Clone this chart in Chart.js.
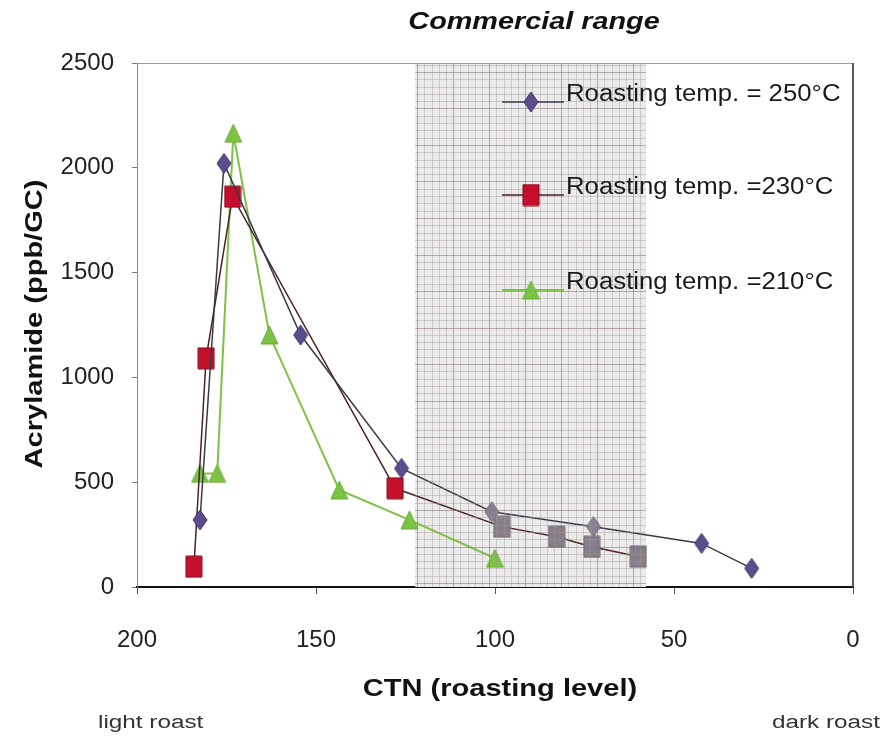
<!DOCTYPE html>
<html>
<head>
<meta charset="utf-8">
<script src="https://cdn.jsdelivr.net/npm/chart.js@4/dist/chart.umd.min.js"></script>
<style>
  html, body { margin: 0; padding: 0; background: #fff; }
  #wrap { width: 882px; height: 739px; }
</style>
</head>
<body>
<div id="wrap"><canvas id="chart" width="882" height="739"></canvas></div>
<script>
// values
const ctn250 = [182.4, 175.7, 154.3, 126.1, 100.9, 72.5, 42.3, 28.3]
const acr250 = [320, 2021, 1202, 566, 359, 288, 208, 89]

const ctn230 = [184.1, 180.7, 173.3, 127.9, 98.1, 82.8, 73.0, 60.0]
const acr230 = [97, 1091, 1862, 471, 288, 240, 192, 145]

const ctn210 = [182.4, 177.6, 173.1, 163.0, 143.5, 123.9, 100.0]
const acr210 = [542, 542, 2165, 1202, 463, 320, 137]

const labels = ["Roasting temp. = 250°C", "Roasting temp. =230°C", "Roasting temp. =210°C"]
const xTicks = [200, 150, 100, 50, 0]
const yTicks = [0, 500, 1000, 1500, 2000, 2500]
const commercialRange = [122.3, 57.8]

const FONT = 'Arial, "Liberation Sans", sans-serif'

function toPoints(xs, ys) {
	return xs.map((x, i) => ({ x: x, y: ys[i] }))
}

function marker(shape, fill, stroke, w, h) {
	let c = document.createElement("canvas")
	c.width = w + 2
	c.height = h + 2
	let g = c.getContext("2d")
	g.fillStyle = fill
	g.strokeStyle = stroke
	g.lineWidth = 1
	g.beginPath()
	if (shape == "diamond") {
		g.moveTo(w / 2 + 1, 1)
		g.lineTo(w + 1, h / 2 + 1)
		g.lineTo(w / 2 + 1, h + 1)
		g.lineTo(1, h / 2 + 1)
	} else if (shape == "rect") {
		g.rect(1, 1, w, h)
	} else {
		g.moveTo(w / 2 + 1, 1)
		g.lineTo(w + 1, h + 1)
		g.lineTo(1, h + 1)
	}
	g.closePath()
	g.fill()
	g.stroke()
	return c
}

const diamond = marker("diamond", "#5c4d8f", "#3d3168", 14, 20)
const diamondGrey = marker("diamond", "#8a8290", "#6e6670", 14, 20)
const square = marker("rect", "#c4102c", "#8a0a1e", 16, 21)
const squareGrey = marker("rect", "#878088", "#6e6670", 16, 21)
const triangle = marker("tri", "#7cc245", "#6aae38", 17, 18)

function inRange(v) {
	return v <= commercialRange[0] && v >= commercialRange[1]
}

function styleFor(normal, grey) {
	return ctx => (ctx.raw && inRange(ctx.raw.x)) ? grey : normal
}

const datasets = [
	{
		label: labels[0],
		data: toPoints(ctn250, acr250),
		borderColor: "#3a3a4a",
		borderWidth: 1.5,
		pointStyle: styleFor(diamond, diamondGrey),
		legendMarker: diamond,
	},
	{
		label: labels[1],
		data: toPoints(ctn230, acr230),
		borderColor: "#4a2228",
		borderWidth: 1.5,
		pointStyle: styleFor(square, squareGrey),
		legendMarker: square,
	},
	{
		label: labels[2],
		data: toPoints(ctn210, acr210),
		borderColor: "#7cc245",
		borderWidth: 2,
		pointStyle: triangle,
		legendMarker: triangle,
	},
]

function rangePixels(chart) {
	const xs = chart.scales.x
	return [xs.getPixelForValue(commercialRange[0]), xs.getPixelForValue(commercialRange[1])]
}

// the original lettering is wider than Arial, so stretch it sideways
function wideText(ctx, str, x, y, sx, align, angle) {
	ctx.save()
	ctx.translate(x, y)
	if (angle) ctx.rotate(angle)
	ctx.scale(sx, 1)
	ctx.textAlign = align
	ctx.textBaseline = "middle"
	ctx.fillText(str, 0, 0)
	ctx.restore()
}

const decor = {
	id: "decor",
	beforeDatasetsDraw(chart) {
		const ctx = chart.ctx
		const a = chart.chartArea
		const [x0, x1] = rangePixels(chart)
		ctx.save()
		ctx.fillStyle = "#ecebeb"
		ctx.fillRect(x0, a.top, x1 - x0, a.bottom - a.top)
		ctx.restore()
	},
	afterDatasetsDraw(chart) {
		// fine grid of the commercial range, laid over the marks
		const ctx = chart.ctx
		const a = chart.chartArea
		const [x0, x1] = rangePixels(chart)
		ctx.save()
		ctx.lineWidth = 1
		let n = 0
		for (let x = x0 + 2; x < x1; x += 7.2) {
			ctx.strokeStyle = n % 5 == 0 ? "rgba(130,115,115,0.55)" : "rgba(160,150,150,0.4)"
			ctx.beginPath()
			ctx.moveTo(Math.round(x) + 0.5, a.top)
			ctx.lineTo(Math.round(x) + 0.5, a.bottom)
			ctx.stroke()
			n++
		}
		n = 0
		for (let y = a.bottom - 4; y > a.top; y -= 7.3) {
			ctx.strokeStyle = n % 5 == 0 ? "rgba(130,115,115,0.55)" : "rgba(160,150,150,0.4)"
			ctx.beginPath()
			ctx.moveTo(x0, Math.round(y) + 0.5)
			ctx.lineTo(x1, Math.round(y) + 0.5)
			ctx.stroke()
			n++
		}
		ctx.restore()
	},
	afterDraw(chart) {
		const ctx = chart.ctx
		const a = chart.chartArea
		ctx.save()
		// top and right frame
		ctx.strokeStyle = "#9a9a9a"
		ctx.lineWidth = 1
		ctx.beginPath()
		ctx.moveTo(a.left, a.top + 0.5)
		ctx.lineTo(a.right, a.top + 0.5)
		ctx.stroke()
		ctx.strokeStyle = "#555"
		ctx.lineWidth = 2
		ctx.beginPath()
		ctx.moveTo(a.right, a.top)
		ctx.lineTo(a.right, a.bottom)
		ctx.stroke()

		// legend
		const rows = [95, 188, 283]
		chart.data.datasets.forEach((ds, i) => {
			const y = rows[i]
			ctx.strokeStyle = ds.borderColor
			ctx.lineWidth = ds.borderWidth
			ctx.beginPath()
			ctx.moveTo(502, y + 7)
			ctx.lineTo(564, y + 7)
			ctx.stroke()
			const m = ds.legendMarker
			ctx.drawImage(m, 531 - m.width / 2, y + 7 - m.height / 2)
			ctx.fillStyle = "#1a1a1a"
			ctx.font = "23px " + FONT
			wideText(ctx, ds.label, 566, y, 1.12, "left")
		})

		// titles
		ctx.fillStyle = "#111"
		ctx.font = "italic bold 24px " + FONT
		wideText(ctx, "Commercial range", 534, 22, 1.2, "center")
		ctx.font = "bold 24px " + FONT
		wideText(ctx, "CTN (roasting level)", 500, 689, 1.21, "center")
		wideText(ctx, "Acrylamide (ppb/GC)", 35, 324, 1.21, "center", -Math.PI / 2)
		ctx.font = "18px " + FONT
		ctx.fillStyle = "#333"
		wideText(ctx, "light roast", 98, 723, 1.35, "left")
		wideText(ctx, "dark roast", 880, 723, 1.35, "right")
		ctx.restore()
	},
}

new Chart(document.getElementById("chart"), {
	type: "line",
	data: { datasets: datasets },
	options: {
		responsive: false,
		animation: false,
		layout: { padding: { top: 63, right: 29, left: 0, bottom: 0 } },
		elements: {
			line: { tension: 0, fill: false },
			point: { radius: 8, hoverRadius: 8 },
		},
		plugins: {
			legend: { display: false },
			tooltip: { enabled: false },
		},
		scales: {
			x: {
				type: "linear",
				reverse: true,
				min: 0,
				max: 200,
				afterFit: s => { s.height = 152; s.paddingLeft = 0; s.paddingRight = 0 },
				afterBuildTicks: s => { s.ticks = xTicks.map(v => ({ value: v })) },
				border: { color: "#111", width: 2 },
				grid: { drawOnChartArea: false, tickLength: 7, color: "#555" },
				ticks: { padding: 32, color: "#222", font: { size: 24, family: FONT }, callback: v => String(v) },
			},
			y: {
				min: 0,
				max: 2500,
				afterFit: s => { s.width = 137; s.paddingTop = 0; s.paddingBottom = 0 },
				afterBuildTicks: s => { s.ticks = yTicks.map(v => ({ value: v })) },
				border: { color: "#8a8a8a", width: 1 },
				grid: { drawOnChartArea: false, tickLength: 5, color: "#777" },
				ticks: { padding: 18, color: "#222", font: { size: 24, family: FONT }, callback: v => String(v) },
			},
		},
	},
	plugins: [decor],
})
</script>
</body>
</html>
